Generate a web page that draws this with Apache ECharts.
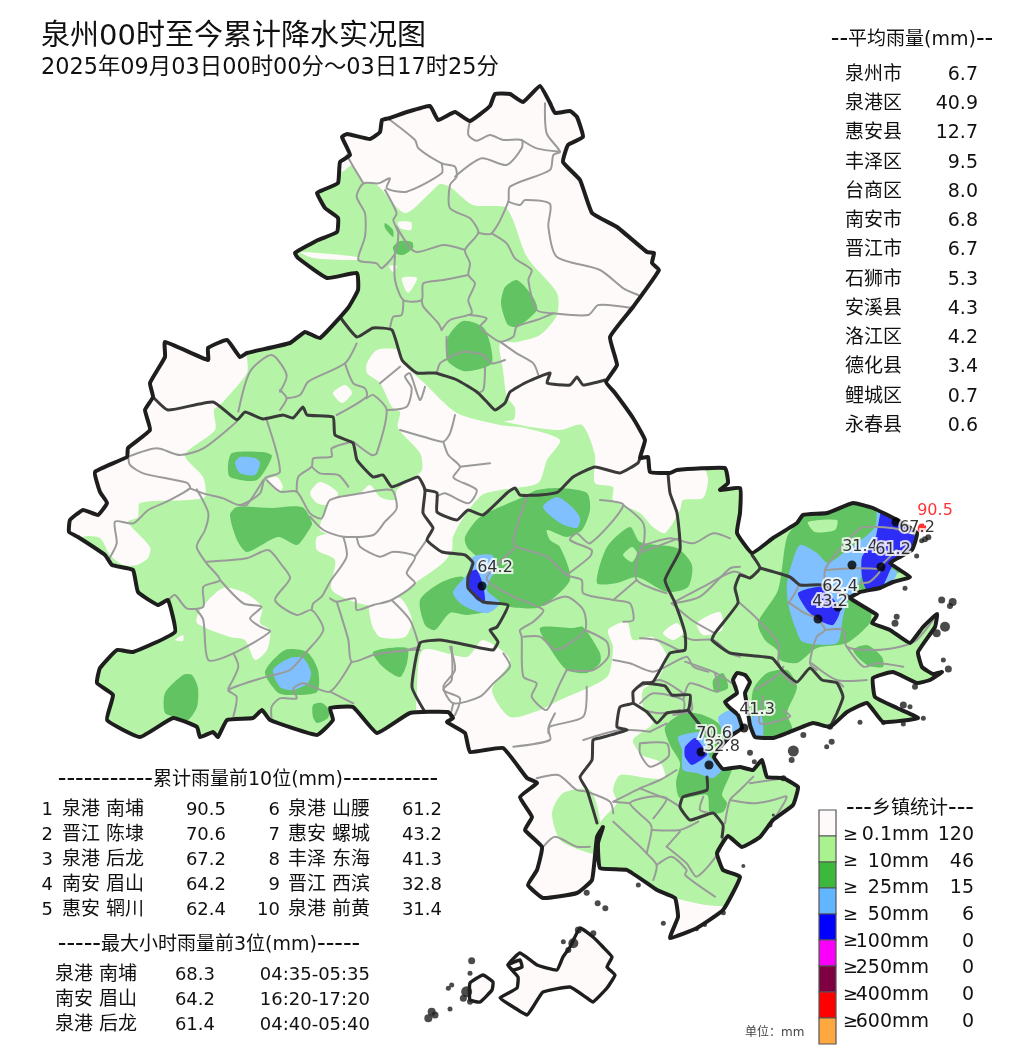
<!DOCTYPE html>
<html>
<head>
<meta charset="utf-8">
<title>泉州累计降水实况图</title>
<script src="https://cdn.jsdelivr.net/npm/echarts@6/dist/echarts.min.js"></script>
<style>
html, body { margin: 0; padding: 0; background: #fff; }
#main { width: 1024px; height: 1064px; }
</style>
</head>
<body>
<div id="main"></div>
<script>
var FONT = '"DejaVu Sans", "Noto Sans CJK SC", sans-serif';

// 文字表格
var avgNames = ['泉州市', '泉港区', '惠安县', '丰泽区', '台商区', '南安市', '晋江市', '石狮市', '安溪县', '洛江区', '德化县', '鲤城区', '永春县'];
var avgValues = ['6.7', '40.9', '12.7', '9.5', '8.0', '6.8', '6.7', '5.3', '4.3', '4.2', '3.4', '0.7', '0.6'];
var topNames = ['泉港 南埔', '晋江 陈埭', '泉港 后龙', '南安 眉山', '惠安 辋川', '泉港 山腰', '惠安 螺城', '丰泽 东海', '晋江 西滨', '泉港 前黄'];
var topValues = [90.5, 70.6, 67.2, 64.2, 62.4, 61.2, 43.2, 41.3, 32.8, 31.4];
var hourNames = ['泉港 南埔', '南安 眉山', '泉港 后龙'];
var hourValues = ['68.3', '64.2', '61.4'];
var hourTimes = ['04:35-05:35', '16:20-17:20', '04:40-05:40'];
var levelLabels = ['0.1mm', '10mm', '25mm', '50mm', '100mm', '250mm', '400mm', '600mm'];
var levelCounts = [120, 46, 15, 6, 0, 0, 0, 0];
var levelColors = ['#fffafa', '#a9f28f', '#3cb93c', '#62b5ff', '#0000ff', '#fa00fa', '#7f0040', '#ff0000', '#ffa840'];

// 站点 (顺序与 topValues 一致)
var stationX = [922, 701, 896, 482, 838, 881, 818, 744, 709, 852];
var stationY = [528, 752, 522, 586, 607, 567, 619, 728, 765, 565];
var labelDx = [13, 13, 21, 13, 2, 12, 12, 13, 13, 8];
var labelDy = [-17, -18, 6, -18, -20, -17, -17, -18, -18, -18];
var stationOrder = [9, 0, 1, 2, 3, 4, 5, 6, 7, 8];

// 陆地边界
var mainland = [[407,112],[430,106],[438,120],[455,112],[470,121],[490,106],[495,94],[510,94],[523,102],[540,86],[550,103],[555,113],[570,111],[577,117],[583,137],[568,145],[563,162],[580,180],[592,213],[617,227],[647,252],[654,253],[652,263],[659,270],[633,307],[610,337],[617,365],[606,382],[615,393],[633,418],[645,440],[640,458],[648,457],[650,472],[670,473],[677,470],[725,468],[728,483],[720,490],[740,488],[740,513],[737,533],[752,553],[773,538],[797,523],[803,515],[827,513],[853,503],[873,508],[897,520],[917,533],[912,550],[890,563],[910,577],[893,582],[880,588],[860,592],[850,598],[877,615],[872,623],[890,630],[910,643],[923,627],[937,614],[935,627],[918,652],[922,667],[933,674],[942,672],[930,680],[917,683],[893,672],[873,678],[875,697],[897,708],[918,718],[883,722],[867,703],[847,712],[830,727],[813,723],[787,733],[773,738],[755,737],[750,725],[747,705],[745,693],[750,682],[745,675],[737,673],[733,680],[737,693],[725,702],[730,708],[738,715],[742,728],[732,735],[722,745],[714,757],[723,769],[740,767],[753,770],[762,760],[767,777],[783,778],[798,787],[793,805],[773,820],[760,837],[742,847],[728,836],[717,853],[723,870],[740,877],[723,910],[697,928],[670,938],[678,917],[675,898],[657,890],[627,870],[600,868],[598,843],[603,827],[597,837],[592,880],[577,893],[543,898],[528,885],[537,870],[542,847],[525,830],[532,817],[520,797],[537,783],[527,778],[503,748],[470,752],[465,733],[447,722],[453,718],[448,712],[410,713],[377,733],[353,707],[330,708],[333,720],[317,735],[270,720],[262,710],[253,718],[227,720],[218,737],[213,732],[200,737],[197,727],[173,718],[140,737],[107,720],[113,695],[97,683],[100,668],[117,650],[133,652],[175,632],[168,600],[158,605],[138,592],[133,570],[112,565],[105,555],[78,537],[69,532],[70,520],[83,510],[98,515],[107,503],[100,492],[95,472],[127,457],[128,448],[150,430],[145,410],[153,397],[150,383],[165,357],[165,342],[208,360],[208,348],[227,340],[240,357],[247,353],[290,343],[305,332],[320,338],[348,308],[358,290],[357,273],[327,278],[298,258],[295,253],[318,240],[337,232],[338,218],[325,208],[317,193],[323,190],[338,183],[340,162],[350,155],[342,137],[347,134],[370,139],[380,132],[382,120],[390,118]];
var islandPolys = [
    [[580,928],[593,937],[603,947],[612,957],[607,967],[615,975],[607,988],[593,1002],[587,998],[570,987],[543,992],[533,1007],[527,1015],[510,1005],[500,998],[517,988],[518,977],[508,965],[520,953],[537,965],[557,970],[563,957],[570,947]],
    [[470,983],[483,975],[493,982],[492,990],[480,1002],[470,1000]],
    [[508,965],[520,960],[522,967],[513,970]]
];
// 小岛, 两个截图里读的 [x, y, 直径]
var islesEast = [[845,212,5],[855,208,6],[865,202,6],[830,258,5],[795,355,5],[905,390,7],[930,408,6],[938,396,8],[770,440,6],[765,460,7],[915,470,10],[890,490,8],[910,570,5],[925,597,7],[825,650,6],[790,705,7],[810,710,5],[850,745,5],[730,760,4],[790,762,5],[660,757,5],[570,770,6],[490,795,6],[575,815,6],[560,830,5],[460,843,11],[455,870,6],[330,848,6],[343,875,5],[430,925,6]];
var islesSouth = [[500,608,6],[533,640,6],[556,655,6],[655,585,5],[730,700,5],[970,528,4],[910,668,5],[880,680,3],[855,705,4],[830,718,4],[155,812,7],[150,850,5],[95,885,5],[85,895,5],[90,957,5],[430,755,5],[520,730,6],[140,905,11],[130,925,7],[150,935,6],[35,965,8],[25,985,8],[45,975,7],[475,720,7],[460,760,10],[445,780,6],[1050,405,5],[1060,375,3]];

// 10mm 以上 (浅绿)
var rain10 = [
    [[247,357],[247,330],[340,320],[400,340],[430,400],[520,425],[560,430],[582,425],[595,455],[595,483],[613,487],[613,500],[640,513],[653,527],[665,533],[680,510],[683,500],[703,498],[708,480],[705,462],[730,462],[950,480],[960,700],[830,760],[780,880],[740,905],[717,906],[700,904],[675,898],[640,885],[595,860],[600,823],[617,803],[613,790],[620,775],[647,778],[665,778],[660,762],[642,755],[633,740],[653,723],[643,707],[643,690],[657,680],[667,657],[653,637],[633,640],[627,622],[608,630],[613,647],[607,677],[560,700],[540,710],[510,717],[492,690],[510,660],[483,640],[467,657],[423,650],[417,690],[417,735],[430,760],[140,760],[90,720],[60,560],[83,537],[100,538],[110,555],[123,565],[137,565],[148,558],[150,547],[128,522],[138,517],[140,503],[187,500],[205,497],[203,477],[185,455],[215,430],[214,410],[223,402],[247,373]],
    [[345,170],[352,165],[363,182],[377,185],[405,213],[430,193],[440,184],[450,187],[473,205],[505,207],[513,220],[527,257],[557,293],[557,315],[540,335],[517,342],[500,343],[503,370],[507,397],[515,408],[513,420],[460,420],[360,340],[300,300],[280,260],[300,200]],
    [[563,793],[590,790],[600,820],[597,853],[580,850],[560,840],[552,813]]
];
// 0.1mm 以上 (绿色中的空白)
var rainGap = [
    [[367,363],[377,350],[398,350],[402,362],[423,382],[457,413],[500,425],[525,428],[560,440],[547,460],[538,483],[500,490],[482,495],[465,515],[453,537],[452,550],[443,563],[415,583],[397,597],[367,605],[332,590],[335,560],[317,550],[317,537],[333,533],[338,530],[343,538],[320,530],[325,512],[332,500],[360,493],[370,485],[380,497],[395,500],[397,490],[410,480],[422,470],[420,453],[398,428],[400,412],[392,407],[380,383],[367,373]],
    [[197,623],[200,610],[223,588],[245,593],[262,607],[260,623],[270,630],[267,650],[255,660],[245,640],[230,637]],
    [[370,600],[400,598],[412,620],[405,637],[380,637],[372,625]],
    [[333,393],[345,385],[352,393],[342,403]],
    [[310,493],[320,482],[338,493],[330,505],[317,503]],
    [[267,480],[277,477],[283,487],[278,492]],
    [[175,640],[183,635],[183,641]],
    [[697,623],[720,612],[722,630],[703,635]],
    [[663,633],[677,623],[683,633],[673,640]],
    [[300,252],[358,257],[358,260],[313,258]],
    [[398,222],[411,222],[411,230],[400,228]],
    [[402,278],[417,278],[408,293]],
    [[389,266],[397,266],[393,272]],
    [[808,522],[837,520],[835,530],[815,532]]
];
// 25mm 以上
var rain25 = [
    [[517,280],[533,297],[537,310],[517,327],[508,325],[503,313],[501,302],[505,287]],
    [[463,321],[483,327],[490,343],[492,363],[480,369],[463,371],[447,360],[448,337]],
    [[385,223],[393,230],[393,237],[385,228]],
    [[393,247],[400,241],[412,242],[413,248],[403,255],[395,253]],
    [[232,453],[263,452],[272,456],[257,480],[230,477],[228,465]],
    [[230,515],[237,507],[270,508],[302,507],[312,523],[307,533],[297,545],[278,537],[247,552],[237,540]],
    [[265,672],[285,650],[307,652],[318,670],[317,692],[287,695],[277,692]],
    [[165,693],[183,675],[192,675],[198,688],[197,707],[188,720],[177,717],[165,713]],
    [[313,705],[322,703],[329,710],[328,718],[317,723],[313,717]],
    [[373,652],[407,648],[407,663],[400,677],[383,667]],
    [[465,537],[480,517],[523,497],[537,490],[560,488],[587,493],[590,510],[582,530],[567,537],[547,530],[550,540],[560,547],[570,580],[540,607],[510,607],[497,603],[483,587],[487,573],[477,557],[467,547]],
    [[420,600],[440,583],[463,577],[477,600],[490,610],[467,615],[450,613],[435,630],[425,625]],
    [[597,583],[607,547],[630,527],[640,542],[677,548],[692,565],[688,587],[667,592],[637,577],[617,583]],
    [[540,628],[573,628],[583,627],[600,653],[600,663],[587,673],[567,670],[553,653]],
    [[753,690],[767,673],[787,670],[797,687],[787,713],[792,730],[770,745],[757,745],[752,720]],
    [[713,680],[723,673],[728,688],[715,692]],
    [[853,650],[867,645],[882,657],[883,667],[867,665]],
    [[758,623],[778,590],[787,537],[800,520],[813,505],[853,495],[877,500],[923,513],[907,590],[873,610],[870,623],[847,643],[817,648],[797,663],[780,660],[777,650],[765,640]],
    [[665,727],[683,713],[703,715],[720,725],[735,760],[730,775],[722,795],[727,803],[723,812],[710,813],[707,795],[680,798],[676,783],[680,763],[670,745]]
];
// 25mm 绿中的 10mm 小块
var rain25Gap = [
    [[623,555],[632,547],[637,553],[632,562]],
    [[808,522],[837,520],[835,530],[815,532]],
    [[893,575],[905,572],[912,578],[895,585]]
];
// 50mm 以上
var rain50 = [
    [[235,463],[240,457],[255,458],[260,463],[255,475],[240,473]],
    [[273,670],[290,658],[303,658],[311,672],[308,683],[293,690],[280,687]],
    [[543,507],[557,497],[572,507],[580,518],[577,528],[560,523]],
    [[453,592],[468,573],[473,557],[492,555],[497,567],[490,580],[487,590],[500,603],[488,613],[473,610],[460,603]],
    [[792,563],[800,545],[817,553],[828,563],[847,550],[875,527],[877,500],[883,505],[880,527],[873,547],[853,597],[848,600],[843,617],[837,643],[803,642],[795,627],[788,603],[787,583]],
    [[880,568],[897,572],[885,592],[870,592]],
    [[678,737],[697,732],[703,733],[710,757],[723,767],[713,778],[697,773],[683,770],[682,750]],
    [[718,718],[730,710],[740,713],[740,732],[728,738]],
    [[752,717],[762,717],[762,745],[753,745],[750,730]]
];
// 100mm 区 (图上为深蓝)
var rain100 = [
    [[470,572],[477,570],[483,585],[485,602],[477,600],[468,588]],
    [[798,593],[822,587],[840,610],[833,625],[818,620],[807,610]],
    [[862,557],[875,540],[883,505],[897,515],[925,530],[913,550],[892,567],[883,585],[867,590],[862,577]],
    [[685,747],[695,738],[703,747],[707,755],[692,765],[685,757]]
];

// 县界
var countyLines = [
    [[340,317],[357,337],[373,328],[392,330],[402,360],[417,373],[435,373],[457,380],[477,392],[487,402],[495,410],[505,403],[510,392],[527,382],[550,373],[547,383],[570,385],[577,377],[583,385],[605,380]],
    [[153,397],[168,410],[213,402],[237,420],[245,412],[263,419],[283,415],[293,418],[303,407],[307,415],[333,417],[335,435],[353,443],[357,460],[373,477],[383,475],[392,487],[418,477],[425,490],[423,513],[433,528],[427,540],[442,552],[465,555],[473,563],[468,577],[468,588],[483,602],[508,605],[497,627],[490,630],[498,642],[493,650],[467,645],[440,640],[420,643],[412,687],[425,712]],
    [[425,490],[437,493],[437,512],[457,520],[468,510],[483,515],[507,493],[515,488],[520,495],[540,495],[558,492],[573,477],[595,467],[620,473],[638,463],[640,458]],
    [[668,473],[670,493],[677,513],[680,550],[665,580],[675,603],[685,633],[685,650],[670,653],[653,682],[643,683],[633,692],[633,703],[620,707],[617,727],[627,730],[600,738],[593,740],[592,760],[580,777],[587,790],[597,823]],
    [[633,703],[647,712],[657,723],[667,713],[688,710],[690,695],[672,695],[665,686],[643,683]],
    [[688,710],[700,725],[712,738],[722,745]],
    [[752,555],[760,568],[750,578],[740,575],[735,588],[738,603],[715,633],[712,640],[730,653],[772,658],[782,670],[797,682],[810,668],[822,680],[837,683],[843,697],[837,713],[830,727]],
    [[760,568],[790,577],[800,585],[822,585],[850,597]],
    [[707,777],[707,790],[683,797],[680,807],[690,820],[713,813],[723,825],[722,837]]
];
// 乡镇界, 按截图分块读取 (left, top, 放大3倍后的坐标)
var townNorth = [
    [[150,120],[225,180],[235,205],[305,250],[345,260],[350,290],[330,315],[330,385],[390,415],[415,458],[375,510],[390,550],[385,585],[405,610],[385,660],[395,700],[330,720],[305,750]],
    [[345,290],[425,235],[500,255],[545,205],[545,180],[490,180],[450,165],[410,182],[385,165],[390,122]],
    [[615,70],[620,160],[660,215],[640,225],[630,270],[510,320],[505,365],[455,460],[415,458]],
    [[545,180],[590,205],[660,215]],
    [[505,365],[540,375],[555,360],[630,372],[625,440],[650,530],[780,570],[850,625],[895,645]],
    [[455,460],[500,490],[525,535],[575,570],[565,600],[590,690],[640,700],[745,705],[775,675],[880,685]],
    [[640,700],[590,720],[530,740],[520,770],[480,785],[440,760],[420,740],[440,715],[390,705]],
    [[305,250],[305,280],[200,335],[140,325],[150,295],[115,310],[70,310],[50,350],[75,400],[75,470],[55,540],[110,550],[125,565],[165,520],[175,460],[160,420],[170,400],[135,330]],
    [[170,440],[225,515],[310,495],[375,510]],
    [[165,525],[165,600],[190,660],[245,660],[250,610],[310,600],[385,585]],
    [[190,660],[185,705],[160,710],[150,745]],
    [[245,660],[250,680],[295,730],[305,750]],
    [[320,770],[325,830],[370,815],[430,825],[455,850],[495,840]],
    [[480,785],[530,820],[580,850],[595,885]],
    [[70,310],[40,260],[20,225]],
    [[435,860],[430,930],[410,940]],
    [[325,835],[300,850],[290,880]]
];
var townWest = [
    [[115,380],[200,355],[270,375],[340,355],[440,275]],
    [[115,380],[120,405],[160,430],[290,458],[300,475],[230,515],[175,540],[130,580],[75,575],[80,640],[55,690]],
    [[300,475],[340,490],[400,505],[450,525],[510,490],[525,445],[570,425],[530,270]],
    [[320,478],[355,550],[345,600],[320,650],[350,700],[390,750],[340,770],[340,830],[290,835],[255,795],[235,810]],
    [[350,695],[470,685],[535,660],[575,705],[600,745],[555,810],[620,855],[665,840],[700,900],[650,965],[600,1020],[530,1040],[415,1080],[440,1100],[430,1160]],
    [[390,750],[460,820],[515,830],[480,865],[510,890],[540,905],[430,970],[355,990],[340,870],[320,840]],
    [[430,970],[445,1010],[415,1075]],
    [[520,450],[470,525],[450,525]],
    [[530,450],[570,485],[620,485],[660,550],[695,565],[720,510],[815,490],[905,480],[920,535],[885,575],[850,615],[760,620],[700,600],[660,560]],
    [[620,485],[625,440],[665,410],[670,385],[725,380],[725,355],[785,335]],
    [[665,410],[690,430],[745,435],[775,470]],
    [[760,620],[770,680],[720,755],[695,800],[670,820],[665,840]],
    [[800,620],[810,650],[870,680],[910,665],[975,680],[950,730],[975,760],[905,810],[850,825],[800,840],[795,805],[740,815],[720,805]],
    [[975,680],[1010,630]],
    [[740,815],[775,930],[785,995],[850,975],[960,960],[990,960]],
    [[785,995],[720,1085],[640,1060],[610,1075],[620,1105],[570,1105],[545,1130],[545,1170]],
    [[720,1085],[790,1120]],
    [[905,810],[960,870],[985,940]],
    [[570,185],[590,135],[545,75],[480,125],[445,245]],
    [[570,180],[590,205],[570,240]],
    [[590,205],[630,195],[655,155],[765,100],[800,40]],
    [[765,100],[790,160],[825,175],[830,200],[740,255]],
    [[830,205],[850,195],[890,240],[860,370],[845,375],[790,335]],
    [[870,160],[930,110]],
    [[890,240],[950,230],[965,175],[945,140],[960,130],[990,210],[1005,170]],
    [[930,300],[1000,320],[1060,335],[1080,310],[1095,255]],
    [[1060,335],[1075,375],[1110,410],[1090,440],[1100,450],[1160,480],[1135,520],[1065,490],[1040,500]],
    [[1110,410],[1200,400]],
    [[1085,950],[1085,1050],[1060,1080],[1110,1105],[1095,1155]]
];
var townCenter = [
    [[380,170],[340,300],[350,320],[440,350],[500,405],[545,420],[550,460],[640,480],[690,490],[700,540],[670,545]],
    [[350,320],[260,415],[340,470],[430,510],[400,545],[360,570],[365,590],[370,710],[410,730],[395,770],[440,810],[480,730],[500,690]],
    [[430,495],[500,470],[550,510],[555,570],[470,630],[420,590],[370,590]],
    [[555,570],[620,605],[625,650],[580,690],[500,690]],
    [[500,405],[570,350],[575,330],[510,300],[530,280],[570,310],[670,195],[600,180]],
    [[670,195],[730,250],[730,320],[715,340],[710,420],[800,460]],
    [[715,340],[835,295]],
    [[820,490],[900,470],[990,385],[1020,380]],
    [[640,480],[710,420]],
    [[850,590],[880,600],[940,600],[990,640],[1020,650]],
    [[150,620],[165,690],[130,740],[160,790],[240,770],[280,730],[330,680],[310,640]],
    [[60,620],[0,635]],
    [[160,790],[150,830]],
    [[560,740],[550,830],[450,860],[445,880]],
    [[640,660],[690,670],[760,695],[860,650],[880,680],[925,695]]
];
var townEast = [
    [[0,230],[90,205],[160,220],[220,190],[270,205]],
    [[95,400],[190,350],[280,305],[330,325]],
    [[295,395],[345,440],[415,520],[415,575],[435,620],[465,645]],
    [[95,400],[155,450],[225,490]],
    [[0,505],[50,510],[115,540]],
    [[450,400],[495,430],[530,445],[555,480],[530,500],[510,580],[530,600]],
    [[555,480],[610,480],[620,530],[700,540],[780,530],[830,510],[890,435]],
    [[620,530],[670,590],[710,580],[790,590]],
    [[445,320],[475,345],[445,400]],
    [[555,340],[555,300],[585,255],[660,175],[700,170],[760,175],[830,195]],
    [[560,300],[640,295],[720,300],[690,335],[660,340]],
    [[720,290],[770,240]],
    [[515,580],[590,630],[680,630]],
    [[590,630],[610,650]],
    [[345,660],[420,610],[430,590]],
    [[370,680],[360,760],[450,740],[430,720]],
    [[225,610],[235,665],[150,640],[130,690]],
    [[135,575],[230,610],[290,650]],
    [[0,650],[60,630],[130,670]],
    [[150,680],[155,720],[100,735]],
    [[0,700],[40,670],[130,690],[130,730]]
];
var townSouth = [
    [[350,265],[415,255],[470,300],[500,305],[570,335],[580,370]],
    [[370,470],[405,440],[470,470],[510,470]],
    [[580,395],[650,460],[680,490],[710,525],[700,570]],
    [[710,525],[755,500],[800,540],[795,555],[885,620]],
    [[680,490],[695,420],[690,400],[630,340],[690,320],[740,325],[700,385]],
    [[740,325],[780,350]],
    [[630,340],[580,335]],
    [[695,420],[780,420],[835,395]],
    [[740,470],[780,425]],
    [[740,470],[800,520],[830,560],[900,480],[910,410]],
    [[660,160],[740,160],[745,200],[690,230],[660,190],[660,160]],
    [[580,335],[660,295],[720,270],[770,240]],
    [[660,295],[735,325]],
    [[280,170],[390,150],[385,115],[405,70]],
    [[490,150],[600,120],[690,125]],
    [[670,60],[720,70],[780,60]],
    [[690,125],[740,100]],
    [[915,400],[930,330],[960,300],[1000,260]],
    [[930,330],[1000,340],[1060,330],[1100,320],[1060,390]],
    [[990,280],[1090,265]],
    [[850,320],[840,360],[880,370]]
];

function fromCrop(left, top, lines) {
    return lines.map(function (line) {
        return line.map(function (p) {
            return [left + p[0] / 3, top + p[1] / 3];
        });
    });
}
var townLines = fromCrop(340, 80, townNorth)
    .concat(fromCrop(90, 330, townWest))
    .concat(fromCrop(400, 440, townCenter))
    .concat(fromCrop(640, 470, townEast))
    .concat(fromCrop(420, 690, townSouth));
var isles = fromCrop(640, 470, [islesEast])[0].map(function (p, i) { return [p[0], p[1], islesEast[i][2]]; })
    .concat(fromCrop(420, 690, [islesSouth])[0].map(function (p, i) { return [p[0], p[1], islesSouth[i][2]]; }));

// 多边形图层
function polygonLayer(polys, fill, stroke, strokeWidth, smooth) {
    return {
        type: 'custom',
        coordinateSystem: 'cartesian2d',
        silent: true,
        clip: false,
        data: polys.map(function (p, i) { return [i, i]; }),
        renderItem: function (params, api) {
            var pts = polys[params.dataIndex].map(function (p) { return api.coord(p); });
            return {
                type: 'polygon',
                shape: { points: pts, smooth: smooth || 0 },
                style: { fill: fill, stroke: stroke || null, lineWidth: strokeWidth || 0, lineJoin: 'round' }
            };
        }
    };
}
function lineLayer(lines, color, width, smooth) {
    return {
        type: 'custom',
        coordinateSystem: 'cartesian2d',
        silent: true,
        clip: false,
        data: lines.map(function (p, i) { return [i, i]; }),
        renderItem: function (params, api) {
            var pts = lines[params.dataIndex].map(function (p) { return api.coord(p); });
            return {
                type: 'polyline',
                shape: { points: pts, smooth: smooth || 0 },
                style: { fill: null, stroke: color, lineWidth: width, lineJoin: 'round', lineCap: 'round' }
            };
        }
    };
}

// 海面遮罩: 外框反向, 陆地部分挖空
var seaMask = [[[0,0],[0,1064],[1024,1064],[1024,0],[0,0]].concat(mainland).concat([mainland[0],[0,0]])];

var stationData = stationOrder.map(function (k) {
    var first = k === 0;
    return {
        value: [stationX[k], stationY[k]],
        itemStyle: { color: first ? '#ff0000' : '#000' },
        label: {
            formatter: topValues[k].toFixed(1),
            color: first ? '#ff0000' : '#000'
        }
    };
});

var series = [
    polygonLayer([mainland], '#fffafa'),
    polygonLayer(rain10, '#b5f4a6', null, 0, 0.25),
    polygonLayer(rainGap, '#fffafa', null, 0, 0.25),
    polygonLayer(rain25, '#62c362', null, 0, 0.25),
    polygonLayer(rain25Gap, '#b5f4a6', null, 0, 0.25),
    polygonLayer(rain50, '#80c0ff', null, 0, 0.25),
    polygonLayer(rain100, '#2d2df5', null, 0, 0.2),
    polygonLayer(seaMask, '#ffffff'),
    lineLayer(townLines, '#9a9a9a', 2, 0.25),
    lineLayer(countyLines, '#3a3a3a', 3, 0.15),
    polygonLayer([mainland], 'none', '#1e1e1e', 4, 0.12),
    polygonLayer(islandPolys, '#fffafa', '#1e1e1e', 3.4, 0.12),
    {
        type: 'scatter',
        silent: true,
        data: isles.map(function (p) {
            return { value: [p[0], p[1]], symbolSize: p[2] };
        }),
        itemStyle: { color: '#1e1e1e' }
    },
    {
        type: 'scatter',
        silent: true,
        symbolSize: 9,
        data: stationData,
        label: {
            show: true,
            position: 'inside',
            fontFamily: FONT,
            fontSize: 16,
            textBorderColor: '#ffffff',
            textBorderWidth: 4
        },
        labelLayout: function (p) {
            var k = stationOrder[p.dataIndex];
            return { dx: labelDx[k], dy: labelDy[k], hideOverlap: false };
        }
    },
    {
        // 色标
        type: 'custom',
        coordinateSystem: 'cartesian2d',
        silent: true,
        clip: false,
        data: levelColors.map(function (c, i) { return [i, i]; }),
        renderItem: function (params, api) {
            var i = params.dataIndex;
            var a = api.coord([819, 810 + i * 26]);
            var b = api.coord([836, 810 + (i + 1) * 26]);
            return {
                type: 'rect',
                shape: { x: a[0], y: a[1], width: b[0] - a[0], height: b[1] - a[1] },
                style: { fill: levelColors[i], stroke: '#555', lineWidth: 1.2 }
            };
        }
    }
];
series.forEach(function (s, i) { s.z = 2 + i; });

// 文字
var texts = [];
function addText(str, x, y, size, align, color) {
    texts.push({
        type: 'text',
        x: x,
        y: y + 2,
        z: 100,
        silent: true,
        style: {
            text: str,
            font: size + 'px ' + FONT,
            fill: color || '#111',
            align: align || 'left',
            verticalAlign: 'middle',
            // 表头两边的短横比正文宽
            rich: { d: { font: '24px ' + FONT, fill: color || '#111', verticalAlign: 'middle' } }
        }
    });
}
addText('泉州00时至今累计降水实况图', 41, 35, 29);
addText('2025年09月03日00时00分～03日17时25分', 41, 66, 22.4);
addText('{d|--}平均雨量(mm){d|--}', 912, 38, 19, 'center');
avgNames.forEach(function (n, i) {
    var y = 73 + i * 29.25;
    addText(n, 845, y, 19);
    addText(avgValues[i], 978, y, 19, 'right');
});
addText('{d|-----------}累计雨量前10位(mm){d|-----------}', 248, 778, 19, 'center');
topNames.forEach(function (n, i) {
    var col = i < 5 ? 0 : 1;
    var y = 808 + (i % 5) * 25;
    addText(String(i + 1), col ? 280 : 53, y, 18, 'right');
    addText(n, col ? 288 : 62, y, 19);
    addText(topValues[i].toFixed(1), col ? 442 : 226, y, 18, 'right');
});
addText('{d|-----}最大小时雨量前3位(mm){d|-----}', 209, 943, 19, 'center');
hourNames.forEach(function (n, i) {
    var y = 973 + i * 25;
    addText(n, 55, y, 19);
    addText(hourValues[i], 215, y, 18, 'right');
    addText(hourTimes[i], 370, y, 18, 'right');
});
addText('{d|---}乡镇统计{d|---}', 910, 807, 19, 'center');
levelLabels.forEach(function (l, i) {
    var y = 833 + i * 26.7;
    addText('≥', 843, y, 18);
    addText(l, 929, y, 19, 'right');
    addText(String(levelCounts[i]), 974, y, 19, 'right');
});
addText('单位：mm', 745, 1031, 12, 'left', '#444');

var chart = echarts.init(document.getElementById('main'));
chart.setOption({
    animation: false,
    backgroundColor: '#ffffff',
    grid: { left: 0, right: 0, top: 0, bottom: 0 },
    xAxis: { type: 'value', min: 0, max: 1024, show: false },
    yAxis: { type: 'value', min: 0, max: 1064, inverse: true, show: false },
    graphic: { elements: texts },
    series: series
});
</script>
</body>
</html>
